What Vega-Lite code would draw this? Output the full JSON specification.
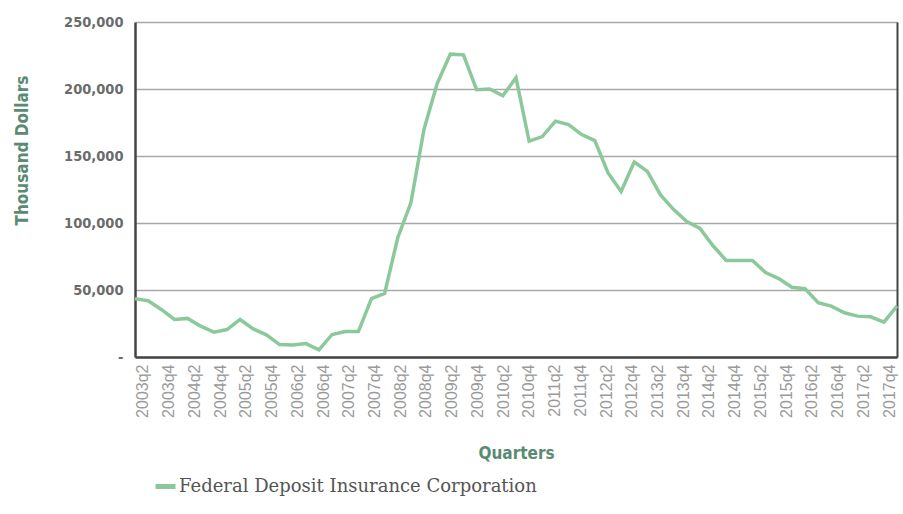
{
  "$schema": "https://vega.github.io/schema/vega-lite/v6.json",
  "autosize": {"type": "none"},
  "width": 762,
  "height": 335,
  "padding": {"left": 135, "top": 22, "right": 6, "bottom": 157},
  "background": "white",
  "config": {
    "view": {"stroke": null}
  },
  "data": {
    "values": [
      {"q": "2003q2", "v": 43500, "s": "Federal Deposit Insurance Corporation"},
      {"q": "2003q3", "v": 42000, "s": "Federal Deposit Insurance Corporation"},
      {"q": "2003q4", "v": 35500, "s": "Federal Deposit Insurance Corporation"},
      {"q": "2004q1", "v": 28000, "s": "Federal Deposit Insurance Corporation"},
      {"q": "2004q2", "v": 28800, "s": "Federal Deposit Insurance Corporation"},
      {"q": "2004q3", "v": 23000, "s": "Federal Deposit Insurance Corporation"},
      {"q": "2004q4", "v": 18500, "s": "Federal Deposit Insurance Corporation"},
      {"q": "2005q1", "v": 20500, "s": "Federal Deposit Insurance Corporation"},
      {"q": "2005q2", "v": 28000, "s": "Federal Deposit Insurance Corporation"},
      {"q": "2005q3", "v": 21000, "s": "Federal Deposit Insurance Corporation"},
      {"q": "2005q4", "v": 16500, "s": "Federal Deposit Insurance Corporation"},
      {"q": "2006q1", "v": 9300, "s": "Federal Deposit Insurance Corporation"},
      {"q": "2006q2", "v": 9000, "s": "Federal Deposit Insurance Corporation"},
      {"q": "2006q3", "v": 10000, "s": "Federal Deposit Insurance Corporation"},
      {"q": "2006q4", "v": 5300, "s": "Federal Deposit Insurance Corporation"},
      {"q": "2007q1", "v": 16800, "s": "Federal Deposit Insurance Corporation"},
      {"q": "2007q2", "v": 19000, "s": "Federal Deposit Insurance Corporation"},
      {"q": "2007q3", "v": 19000, "s": "Federal Deposit Insurance Corporation"},
      {"q": "2007q4", "v": 43500, "s": "Federal Deposit Insurance Corporation"},
      {"q": "2008q1", "v": 47500, "s": "Federal Deposit Insurance Corporation"},
      {"q": "2008q2", "v": 89000, "s": "Federal Deposit Insurance Corporation"},
      {"q": "2008q3", "v": 115000, "s": "Federal Deposit Insurance Corporation"},
      {"q": "2008q4", "v": 170000, "s": "Federal Deposit Insurance Corporation"},
      {"q": "2009q1", "v": 204000, "s": "Federal Deposit Insurance Corporation"},
      {"q": "2009q2", "v": 226000, "s": "Federal Deposit Insurance Corporation"},
      {"q": "2009q3", "v": 225500, "s": "Federal Deposit Insurance Corporation"},
      {"q": "2009q4", "v": 199500, "s": "Federal Deposit Insurance Corporation"},
      {"q": "2010q1", "v": 200000, "s": "Federal Deposit Insurance Corporation"},
      {"q": "2010q2", "v": 195000, "s": "Federal Deposit Insurance Corporation"},
      {"q": "2010q3", "v": 208500, "s": "Federal Deposit Insurance Corporation"},
      {"q": "2010q4", "v": 161000, "s": "Federal Deposit Insurance Corporation"},
      {"q": "2011q1", "v": 164500, "s": "Federal Deposit Insurance Corporation"},
      {"q": "2011q2", "v": 176000, "s": "Federal Deposit Insurance Corporation"},
      {"q": "2011q3", "v": 173500, "s": "Federal Deposit Insurance Corporation"},
      {"q": "2011q4", "v": 166000, "s": "Federal Deposit Insurance Corporation"},
      {"q": "2012q1", "v": 161500, "s": "Federal Deposit Insurance Corporation"},
      {"q": "2012q2", "v": 137500, "s": "Federal Deposit Insurance Corporation"},
      {"q": "2012q3", "v": 123500, "s": "Federal Deposit Insurance Corporation"},
      {"q": "2012q4", "v": 145500, "s": "Federal Deposit Insurance Corporation"},
      {"q": "2013q1", "v": 138500, "s": "Federal Deposit Insurance Corporation"},
      {"q": "2013q2", "v": 121000, "s": "Federal Deposit Insurance Corporation"},
      {"q": "2013q3", "v": 110000, "s": "Federal Deposit Insurance Corporation"},
      {"q": "2013q4", "v": 101000, "s": "Federal Deposit Insurance Corporation"},
      {"q": "2014q1", "v": 96000, "s": "Federal Deposit Insurance Corporation"},
      {"q": "2014q2", "v": 83000, "s": "Federal Deposit Insurance Corporation"},
      {"q": "2014q3", "v": 72000, "s": "Federal Deposit Insurance Corporation"},
      {"q": "2014q4", "v": 72000, "s": "Federal Deposit Insurance Corporation"},
      {"q": "2015q1", "v": 72000, "s": "Federal Deposit Insurance Corporation"},
      {"q": "2015q2", "v": 63000, "s": "Federal Deposit Insurance Corporation"},
      {"q": "2015q3", "v": 58500, "s": "Federal Deposit Insurance Corporation"},
      {"q": "2015q4", "v": 52000, "s": "Federal Deposit Insurance Corporation"},
      {"q": "2016q1", "v": 51000, "s": "Federal Deposit Insurance Corporation"},
      {"q": "2016q2", "v": 40500, "s": "Federal Deposit Insurance Corporation"},
      {"q": "2016q3", "v": 38000, "s": "Federal Deposit Insurance Corporation"},
      {"q": "2016q4", "v": 33000, "s": "Federal Deposit Insurance Corporation"},
      {"q": "2017q1", "v": 30500, "s": "Federal Deposit Insurance Corporation"},
      {"q": "2017q2", "v": 30000, "s": "Federal Deposit Insurance Corporation"},
      {"q": "2017q3", "v": 26000, "s": "Federal Deposit Insurance Corporation"},
      {"q": "2017q4", "v": 38000, "s": "Federal Deposit Insurance Corporation"}
    ]
  },
  "encoding": {
    "y": {
      "field": "v",
      "type": "quantitative",
      "scale": {"domain": [0, 250000], "nice": false}
    },
    "color": {
      "field": "s",
      "type": "nominal",
      "scale": {"range": ["#8cc99a"]},
      "legend": {
        "title": null,
        "orient": "none",
        "legendX": 18,
        "legendY": 452,
        "symbolType": "stroke",
        "symbolStrokeWidth": 5,
        "symbolSize": 400,
        "symbolOpacity": 1,
        "labelFont": "DejaVu Serif",
        "labelFontSize": 18,
        "labelColor": "#555555",
        "labelOffset": 1,
        "labelLimit": 0
      }
    }
  },
  "layer": [
    {
      "mark": {"type": "line", "strokeWidth": 3.5},
      "encoding": {
        "x": {
          "field": "q",
          "type": "ordinal",
          "sort": null,
          "scale": {"type": "point", "padding": 0},
          "axis": {
            "orient": "bottom",
            "title": null,
            "labels": false,
            "ticks": false,
            "grid": false,
            "domainColor": "#444444",
            "domainWidth": 2.5
          }
        },
        "y": {
          "field": "v",
          "type": "quantitative",
          "axis": {
            "title": "Thousand Dollars",
            "titleFont": "'DejaVu Sans Condensed', Roboto, sans-serif",
            "titleFontSize": 17,
            "titleFontWeight": "bold",
            "titleColor": "#5b8a72",
            "titlePadding": 32,
            "titleY": 128,
            "values": [0, 50000, 100000, 150000, 200000, 250000],
            "labelExpr": "datum.value == 0 ? '-' : format(datum.value, ',')",
            "labelFont": "'DejaVu Sans Condensed', Roboto, sans-serif",
            "labelFontSize": 14.5,
            "labelFontWeight": "bold",
            "labelColor": "#6b6b6b",
            "labelPadding": 12,
            "ticks": false,
            "grid": true,
            "gridColor": "#a8a8a8",
            "gridWidth": 1.5,
            "domainColor": "#444444",
            "domainWidth": 2.5
          }
        }
      }
    },
    {
      "mark": {"type": "line", "strokeWidth": 3.5, "opacity": 0},
      "encoding": {
        "x": {
          "field": "q",
          "type": "ordinal",
          "sort": null,
          "scale": {"type": "point", "padding": 0.62},
          "axis": {
            "orient": "bottom",
            "title": "Quarters",
            "titleFont": "'DejaVu Sans Condensed', Roboto, sans-serif",
            "titleFontSize": 17,
            "titleFontWeight": "bold",
            "titleColor": "#5b8a72",
            "titlePadding": 28,
            "labelExpr": "indexof(datum.label, 'q2') > 0 || indexof(datum.label, 'q4') > 0 ? datum.label : ''",
            "labelAngle": -90,
            "labelAlign": "right",
            "labelBaseline": "middle",
            "labelFont": "Liberation Sans",
            "labelFontSize": 16,
            "labelColor": "#9a9a9a",
            "labelPadding": 7,
            "labelDx": -4,
            "labelOverlap": false,
            "labelBound": false,
            "ticks": false,
            "grid": false,
            "domain": false
          }
        },
        "y": {
          "field": "v",
          "type": "quantitative",
          "axis": {
            "orient": "right",
            "title": null,
            "labels": false,
            "ticks": false,
            "grid": false,
            "domainColor": "#444444",
            "domainWidth": 2
          }
        }
      }
    }
  ],
  "resolve": {"scale": {"x": "independent"}, "axis": {"x": "independent", "y": "independent"}}
}
